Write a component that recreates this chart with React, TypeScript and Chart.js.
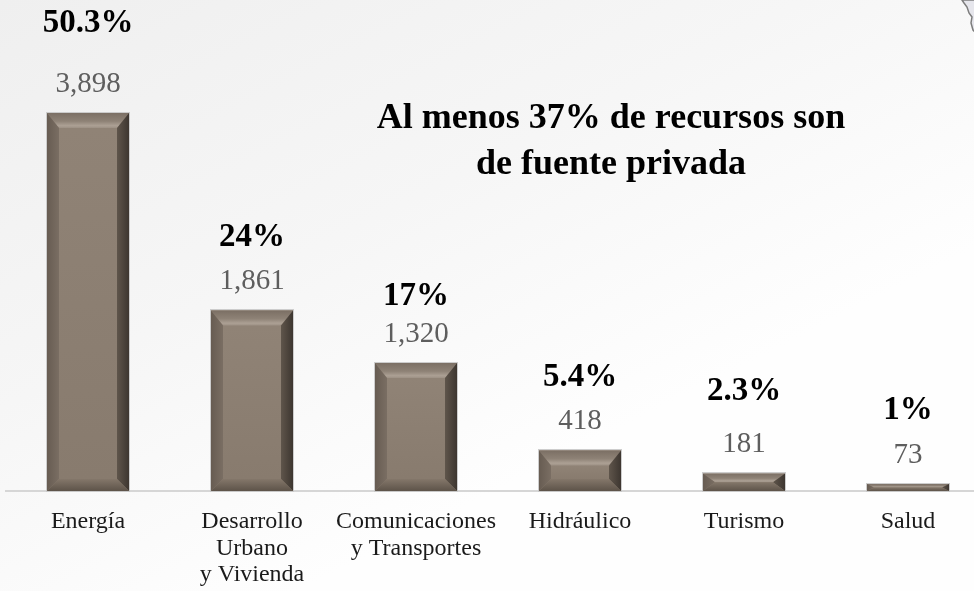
import React, { useEffect, useRef } from "react";
import { Chart, registerables } from "chart.js";

Chart.register(...registerables);

// ---- data ----
const categories: string[][] = [
  ["Energía"],
  ["Desarrollo", "Urbano", "y Vivienda"],
  ["Comunicaciones", "y Transportes"],
  ["Hidráulico"],
  ["Turismo"],
  ["Salud"],
];
const values: number[] = [3898, 1861, 1320, 418, 181, 73];
const shares: string[] = ["50.3%", "24%", "17%", "5.4%", "2.3%", "1%"];
const titleLines: string[] = ["Al menos 37% de recursos son", "de fuente privada"];

// ---- style / layout (not data) ----
const SERIF = "'Liberation Serif', 'Times New Roman', serif";
const shareGap: number[] = [60, 44, 37, 44, 53, 44];
const VALUE_GAP = 29;

const fmt = (v: number) => v.toLocaleString("en-US");

const backgroundPlugin = {
  id: "bgFill",
  beforeDraw(chart: any) {
    const { ctx, width, height } = chart;
    ctx.save();
    const g = ctx.createLinearGradient(0, 0, width * 0.3, height);
    g.addColorStop(0, "#efefef");
    g.addColorStop(0.55, "#f6f6f6");
    g.addColorStop(1, "#fefefe");
    ctx.fillStyle = g;
    ctx.fillRect(0, 0, width, height);
    ctx.restore();
  },
};

const bevelPlugin = {
  id: "bevelBars",
  afterDatasetsDraw(chart: any) {
    const ctx = chart.ctx;
    const meta = chart.getDatasetMeta(0);
    ctx.save();
    meta.data.forEach((el: any, i: number) => {
      const { x, y, base, width } = el.getProps(["x", "y", "base", "width"], true);
      const l = x - width / 2;
      const r = x + width / 2;
      const t = y;
      const b = base;
      const h = b - t;
      const dyT = Math.min(15, h / 2);
      const dyB = Math.min(12, h / 2);
      const dx = Math.min(12, h * 0.7 + 2);

      // face
      const fg = ctx.createLinearGradient(0, t + dyT, 0, b - dyB);
      fg.addColorStop(0, "#908376");
      fg.addColorStop(1, "#887b6e");
      ctx.fillStyle = fg;
      ctx.fillRect(l, t, width, h);

      const poly = (pts: number[][], fill: any) => {
        ctx.beginPath();
        ctx.moveTo(pts[0][0], pts[0][1]);
        for (let k = 1; k < pts.length; k++) ctx.lineTo(pts[k][0], pts[k][1]);
        ctx.closePath();
        ctx.fillStyle = fill;
        ctx.fill();
      };

      // top bevel
      const tg = ctx.createLinearGradient(0, t, 0, t + dyT);
      tg.addColorStop(0, "#7b6f64");
      tg.addColorStop(0.55, "#8e8276");
      tg.addColorStop(0.85, "#aca094");
      tg.addColorStop(1, "#9d9185");
      poly([[l, t], [r, t], [r - dx, t + dyT], [l + dx, t + dyT]], tg);

      // left bevel
      const lg = ctx.createLinearGradient(l, 0, l + dx, 0);
      lg.addColorStop(0, "#675c52");
      lg.addColorStop(1, "#7a6e63");
      poly([[l, t], [l + dx, t + dyT], [l + dx, b - dyB], [l, b]], lg);

      // right bevel
      const rg = ctx.createLinearGradient(r, 0, r - dx, 0);
      rg.addColorStop(0, "#3d3630");
      rg.addColorStop(1, "#5f554b");
      poly([[r, t], [r, b], [r - dx, b - dyB], [r - dx, t + dyT]], rg);

      // bottom bevel
      const bg = ctx.createLinearGradient(0, b - dyB, 0, b);
      bg.addColorStop(0, "#84776a");
      bg.addColorStop(1, "#5d5349");
      poly([[l, b], [l + dx, b - dyB], [r - dx, b - dyB], [r, b]], bg);

      // thin light outline
      ctx.strokeStyle = "rgba(200,200,200,0.9)";
      ctx.lineWidth = 1;
      ctx.strokeRect(Math.round(l) - 0.5, Math.round(t) - 0.5, Math.round(width) + 1, Math.round(h) + 1);

      // labels
      ctx.textAlign = "center";
      ctx.textBaseline = "middle";
      ctx.fillStyle = "#5e5e5e";
      ctx.font = `29px ${SERIF}`;
      const vy = t - VALUE_GAP;
      ctx.fillText(fmt(values[i]), x, vy);
      ctx.fillStyle = "#000000";
      ctx.font = `bold 33px ${SERIF}`;
      ctx.fillText(shares[i], x, vy - shareGap[i]);
    });
    ctx.restore();
  },
};

const overlayPlugin = {
  id: "overlay",
  afterDraw(chart: any) {
    const ctx = chart.ctx;
    ctx.save();
    // title
    ctx.fillStyle = "#000000";
    ctx.font = `bold 36px ${SERIF}`;
    ctx.textAlign = "center";
    ctx.textBaseline = "alphabetic";
    ctx.fillText(titleLines[0], 611, 128);
    ctx.fillText(titleLines[1], 611, 174);

    // corner map fragment decoration
    ctx.beginPath();
    ctx.moveTo(962, 0);
    ctx.lineTo(964, 3);
    ctx.lineTo(967, 7);
    ctx.lineTo(969, 13);
    ctx.lineTo(972, 17);
    ctx.lineTo(971, 23);
    ctx.lineTo(973, 30);
    ctx.lineTo(977, 34);
    ctx.lineTo(990, 34);
    ctx.lineTo(990, 0);
    ctx.closePath();
    ctx.fillStyle = "#e6e6ec";
    ctx.fill();
    ctx.strokeStyle = "#7d7d7d";
    ctx.lineWidth = 1.5;
    ctx.stroke();
    ctx.restore();
  },
};

export default function App() {
  const ref = useRef<HTMLCanvasElement | null>(null);

  useEffect(() => {
    if (!ref.current) return;
    const chart = new Chart(ref.current, {
      type: "bar",
      data: {
        labels: categories as any,
        datasets: [
          {
            data: values,
            backgroundColor: "#8a7d70",
            borderWidth: 0,
            barPercentage: 0.5,
            categoryPercentage: 1.0,
          },
        ],
      },
      options: {
        responsive: false,
        animation: false,
        devicePixelRatio: 1,
        layout: { padding: { top: 103, left: 6, right: 10, bottom: 0 } },
        plugins: {
          legend: { display: false },
          tooltip: { enabled: false },
          title: { display: false },
        },
        scales: {
          x: {
            grid: { display: false, drawTicks: false },
            border: { display: true, color: "#d6d6d6", width: 2 },
            ticks: {
              font: { family: SERIF, size: 24, lineHeight: 1.12 },
              color: "#1a1a1a",
              padding: 17,
              maxRotation: 0,
              autoSkip: false,
            },
            afterFit: (s: any) => {
              s.height = 100;
            },
          },
          y: { display: false, min: 0, max: 4000 },
        },
      },
      plugins: [backgroundPlugin, bevelPlugin, overlayPlugin],
    });
    return () => chart.destroy();
  }, []);

  return (
    <div
      style={{
        position: "fixed",
        left: 0,
        top: 0,
        width: 974,
        height: 591,
        overflow: "hidden",
        background: "#f4f4f4",
      }}
    >
      <canvas ref={ref} width={1000} height={591} style={{ width: 1000, height: 591, display: "block" }} />
    </div>
  );
}
